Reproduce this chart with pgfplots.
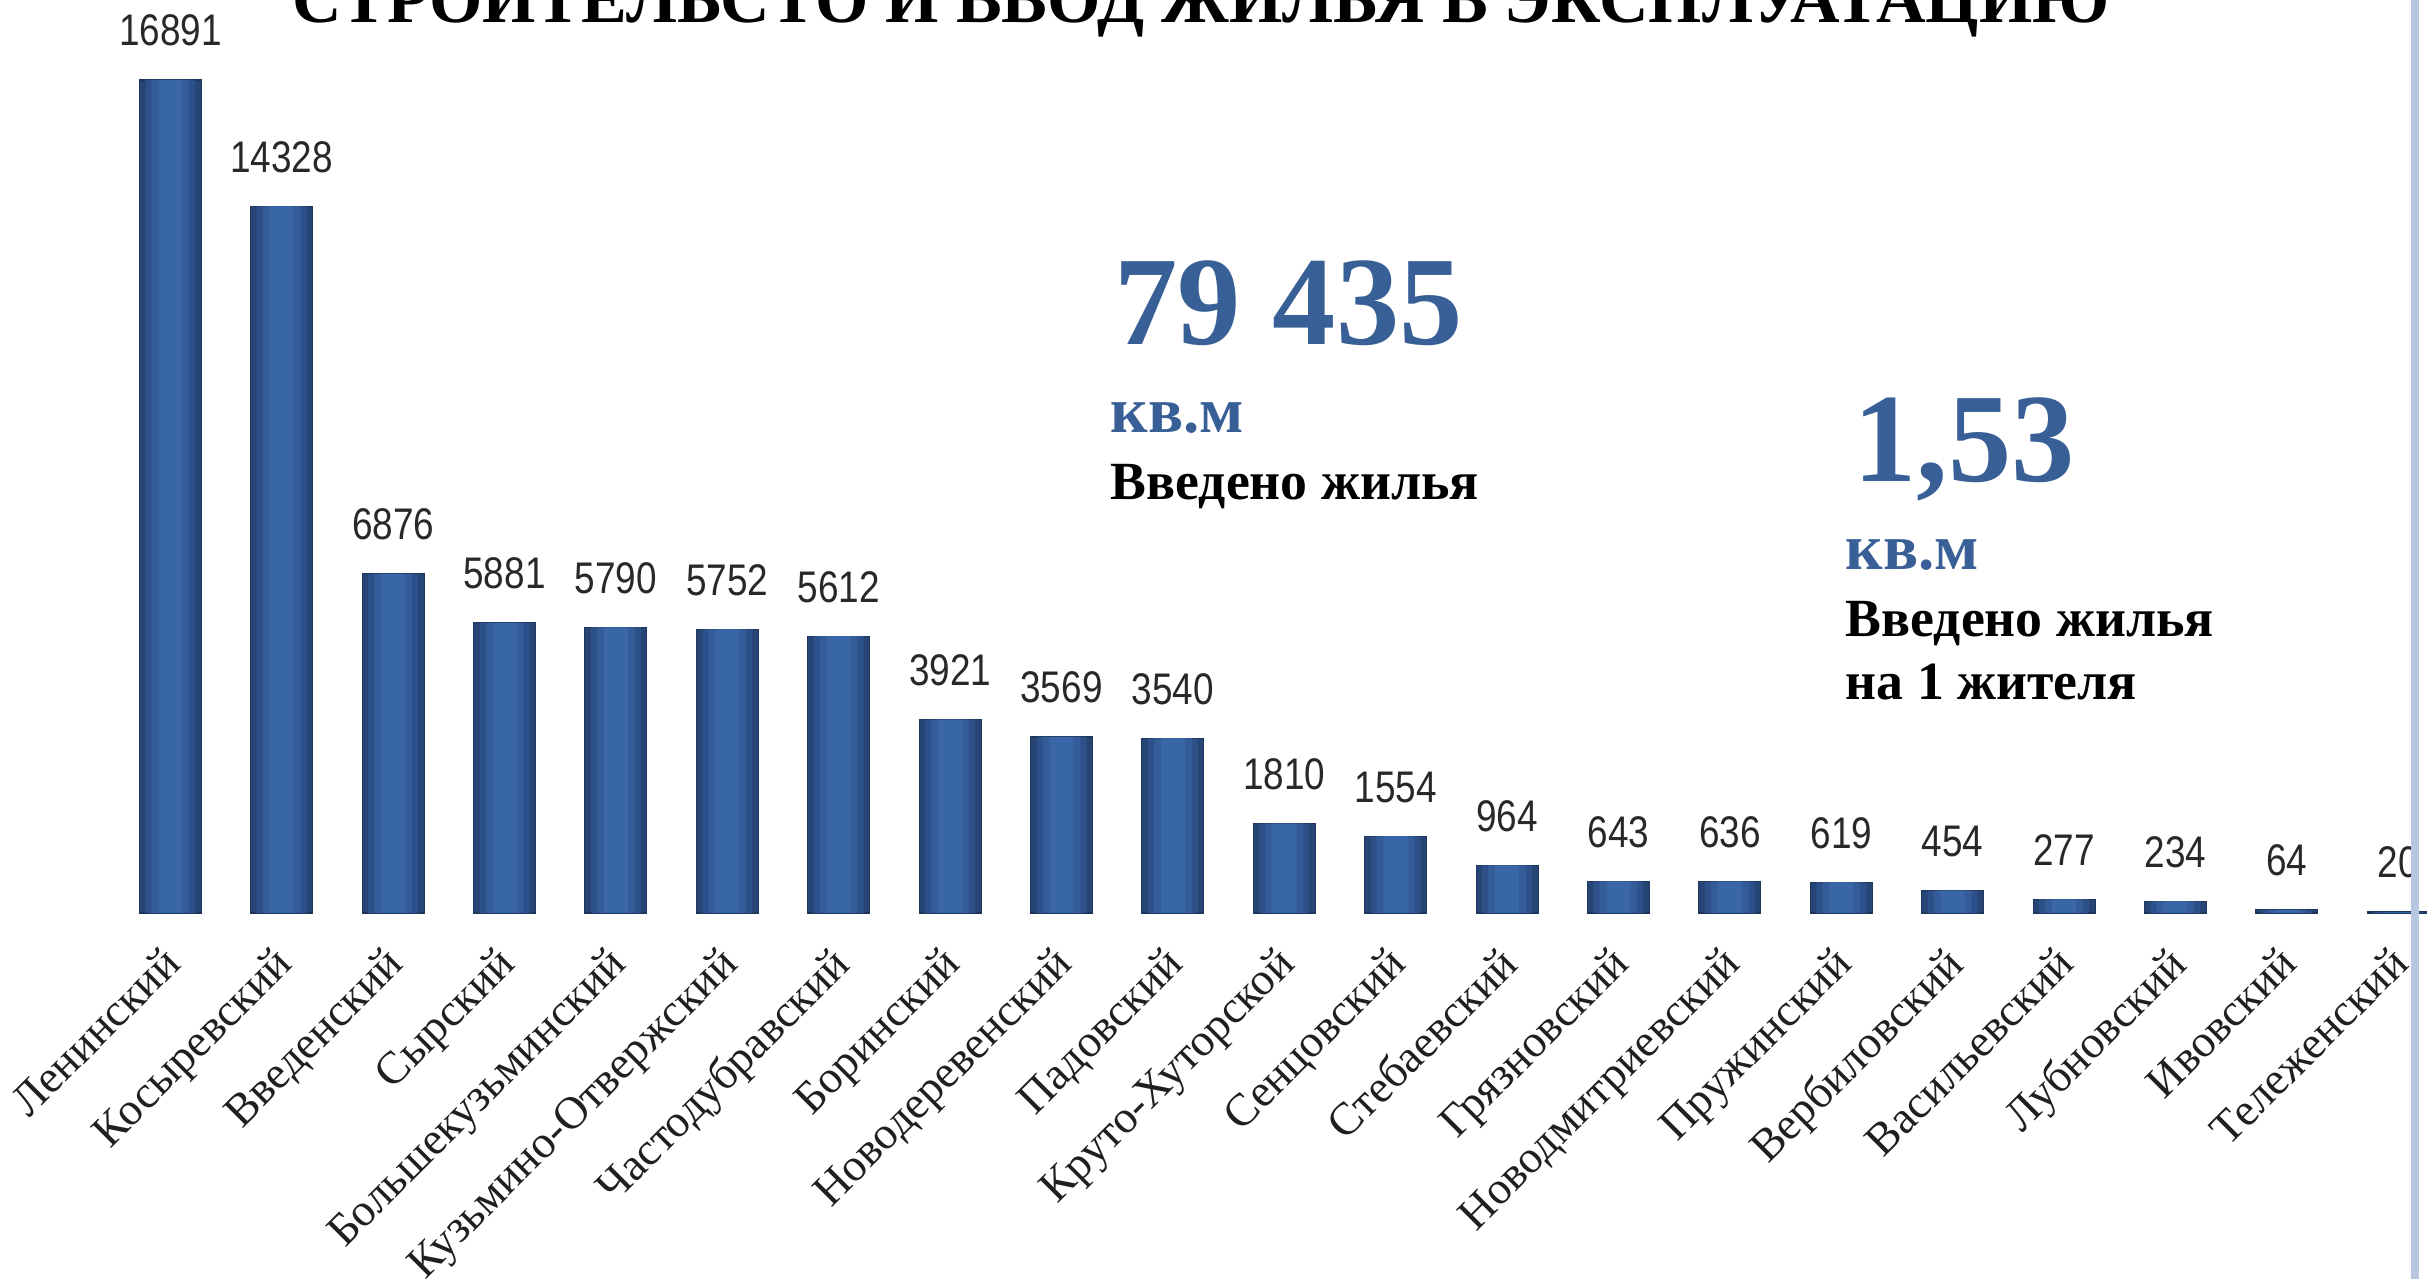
\documentclass[border=0pt]{standalone}
\usepackage{fontspec}
\setmainfont{Liberation Serif}
\newfontfamily\arial{Liberation Sans}
\usepackage{pgfplots}
\usepackage{pgfplotstable}
\pgfplotsset{compat=1.18}
\definecolor{barA}{RGB}{38,68,116}
\definecolor{barB}{RGB}{45,80,136}
\definecolor{barC}{RGB}{51,92,153}
\definecolor{barD}{RGB}{57,102,167}
\definecolor{numblue}{RGB}{56,96,150}
\definecolor{lblgray}{RGB}{40,40,40}
\definecolor{sidebar}{RGB}{184,199,224}

\pgfplotstableread{
x  y
0  16891
1  14328
2  6876
3  5881
4  5790
5  5752
6  5612
7  3921
8  3569
9  3540
10 1810
11 1554
12 964
13 643
14 636
15 619
16 454
17 277
18 234
19 64
20 20
}\housing

\begin{document}
\begin{tikzpicture}
\useasboundingbox (0,0) rectangle (242.7mm,127.9mm);
\clip (0,0) rectangle (242.7mm,127.9mm);
\begin{axis}[
    at={(0,36.6mm)}, anchor=south west,
    scale only axis, width=242.7mm, height=88.77mm,
    xmin=-1.529, xmax=20.258, ymin=0, ymax=18000,
    axis line style={draw=none}, tick style={draw=none},
    ytick=\empty, xtick={0,...,20},
    xticklabels={Ленинский, Косыревский, Введенский, Сырский, Большекузьминский,
        Кузьмино-Отвержский, Частодубравский, Боринский, Новодеревенский, Падовский,
        Круто-Хуторской, Сенцовский, Стебаевский, Грязновский, Новодмитриевский,
        Пружинский, Вербиловский, Васильевский, Лубновский, Ивовский, Тележенский},
    xticklabel style={xshift=-1.0mm, yshift=-1.5mm, rotate=45, anchor=north east,
        inner sep=0pt, font=\fontsize{13}{14}\selectfont, text=black!88},
    ybar=0pt, bar shift=0pt,
    /pgf/number format/fixed, /pgf/number format/precision=0,
    /pgf/number format/1000 sep={}, /pgf/number format/assume math mode=true,
    clip=false,
]
\addplot[fill=barA, draw=barA!80!black, line width=0.3pt, bar width=6.2mm,
    nodes near coords,
    nodes near coords style={font=\arial\fontsize{10.5}{11}\selectfont, text=lblgray,
        anchor=south, inner sep=0pt, yshift=3.3mm, yscale=1.2}]
    table[x=x, y=y] {\housing};
\addplot[fill=barB, draw=none, bar width=5.0mm] table[x=x, y=y] {\housing};
\addplot[fill=barC, draw=none, bar width=3.8mm] table[x=x, y=y] {\housing};
\addplot[fill=barD, draw=none, bar width=2.4mm] table[x=x, y=y] {\housing};
\end{axis}

\node[anchor=base, inner sep=0pt, font=\bfseries\fontsize{19.5}{20}\selectfont]
    at (120.1mm,125.6mm) {СТРОИТЕЛЬСТО И ВВОД ЖИЛЬЯ В ЭКСПЛУАТАЦИЮ};

\node[anchor=base west, inner sep=0pt, text=numblue, font=\bfseries\fontsize{36}{37}\selectfont]
    at (111.4mm,93.4mm) {79 435};
\node[anchor=base west, inner sep=0pt, text=numblue, font=\bfseries\fontsize{18.5}{19}\selectfont]
    at (111.0mm,84.6mm) {кв.м};
\node[anchor=base west, inner sep=0pt, font=\bfseries\fontsize{15.3}{16}\selectfont]
    at (111.0mm,77.9mm) {Введено жилья};

\node[anchor=base west, inner sep=0pt, text=numblue, font=\bfseries\fontsize{36}{37}\selectfont]
    at (185.3mm,79.7mm) {1,53};
\node[anchor=base west, inner sep=0pt, text=numblue, font=\bfseries\fontsize{18.5}{19}\selectfont]
    at (184.5mm,70.9mm) {кв.м};
\node[anchor=base west, inner sep=0pt, font=\bfseries\fontsize{15.3}{16}\selectfont]
    at (184.5mm,64.2mm) {Введено жилья};
\node[anchor=base west, inner sep=0pt, font=\bfseries\fontsize{15.3}{16}\selectfont]
    at (184.5mm,57.9mm) {на 1 жителя};

\draw[sidebar, line width=0.8mm] (241.5mm,0) -- (241.5mm,127.9mm);
\end{tikzpicture}
\end{document}
